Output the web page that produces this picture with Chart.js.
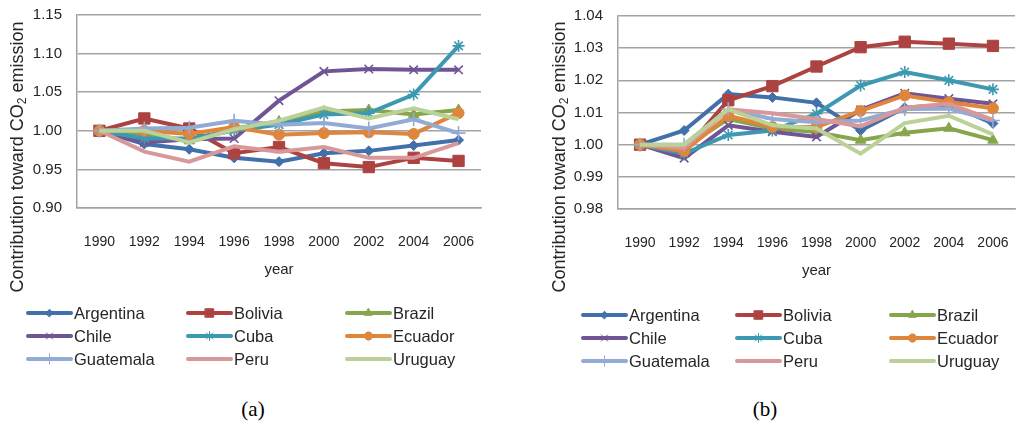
<!DOCTYPE html>
<html lang="en">
<head>
<meta charset="UTF-8">
<script src="https://cdn.jsdelivr.net/npm/chart.js@4.4.0/dist/chart.umd.min.js"></script>
<title>Contribution toward CO2 emission</title>
<style>
  html, body { margin: 0; padding: 0; background: #fff; overflow: hidden; }
  #wrap { position: relative; width: 1020px; height: 433px; overflow: hidden; }
  canvas { position: absolute; top: 0; }
  .ytitle { position: absolute; width: 320px; height: 20px; line-height: 20px; text-align: center;
            font: 18px "Liberation Sans", Arial, sans-serif; color: #262626; white-space: nowrap;
            transform: rotate(-90deg); }
  .ytitle sub { font-size: 12px; vertical-align: -3px; line-height: 0; }
  .caption { position: absolute; top: 397px; width: 60px; text-align: center;
             font: 21px "Liberation Serif", "Times New Roman", serif; color: #000; }
</style>
</head>
<body>
<div id="wrap">
  <canvas id="chartA" width="510" height="390" style="left:0"></canvas>
  <canvas id="chartB" width="514" height="390" style="left:510px"></canvas>
  <div class="ytitle" style="left:-143px; top:147px">Contribution toward CO<sub>2</sub> emission</div>
  <div class="ytitle" style="left:399px; top:147px">Contribution toward CO<sub>2</sub> emission</div>
  <div class="caption" style="left:223px">(a)</div>
  <div class="caption" style="left:735px">(b)</div>
</div>
<script>
const years = ['1990', '1992', '1994', '1996', '1998', '2000', '2002', '2004', '2006'];
const countries = ['Argentina', 'Bolivia', 'Brazil', 'Chile', 'Cuba', 'Ecuador', 'Guatemala', 'Peru', 'Uruguay'];
const colors = ['#4170aa', '#ad4341', '#87a54a', '#6f5595', '#3d99b2', '#df853c', '#92abd4', '#d8989a', '#bad197'];
const markers = ['rectRot', 'rect', 'triangle', 'crossRot', 'star', 'circle', 'cross', false, false];
const markerSize = [5, 8, 6, 6, 6, 5.5, 7, 0, 0];

// panel (a)
const aArgentina = [1.000, 0.983, 0.976, 0.965, 0.960, 0.971, 0.974, 0.981, 0.988];
const aBolivia   = [1.000, 1.016, 1.003, 0.971, 0.979, 0.958, 0.953, 0.965, 0.961];
const aBrazil    = [1.000, 0.995, 0.987, 1.003, 1.012, 1.025, 1.027, 1.021, 1.027];
const aChile     = [1.000, 0.985, 0.989, 0.990, 1.039, 1.077, 1.080, 1.079, 1.079];
const aCuba      = [1.000, 0.990, 0.990, 1.000, 1.008, 1.021, 1.023, 1.047, 1.110];
const aEcuador   = [1.000, 1.000, 0.996, 1.005, 0.995, 0.997, 0.998, 0.996, 1.023];
const aGuatemala = [1.000, 1.003, 1.004, 1.013, 1.008, 1.010, 1.003, 1.015, 0.997];
const aPeru      = [1.000, 0.973, 0.960, 0.980, 0.973, 0.979, 0.965, 0.965, 0.984];
const aUruguay   = [1.000, 1.000, 0.985, 1.002, 1.013, 1.030, 1.016, 1.029, 1.015];

// panel (b)
const bArgentina = [1.000, 1.0044, 1.0157, 1.0147, 1.0130, 1.0044, 1.0115, 1.0125, 1.0066];
const bBolivia   = [1.000, 0.9980, 1.0138, 1.0182, 1.0243, 1.0303, 1.0320, 1.0314, 1.0307];
const bBrazil    = [1.000, 0.9990, 1.0080, 1.0050, 1.0039, 1.0014, 1.0037, 1.0051, 1.0014];
const bChile     = [1.000, 0.9958, 1.0060, 1.0040, 1.0024, 1.0108, 1.0160, 1.0143, 1.0127];
const bCuba      = [1.000, 0.9972, 1.0030, 1.0044, 1.0096, 1.0184, 1.0226, 1.0200, 1.0172];
const bEcuador   = [1.000, 0.9980, 1.0090, 1.0055, 1.0055, 1.0105, 1.0153, 1.0132, 1.0113];
const bGuatemala = [1.000, 1.0000, 1.0110, 1.0080, 1.0070, 1.0075, 1.0111, 1.0112, 1.0075];
const bPeru      = [1.000, 0.9990, 1.0110, 1.0098, 1.0080, 1.0057, 1.0115, 1.0127, 1.0077];
const bUruguay   = [1.000, 1.0000, 1.0110, 1.0060, 1.0050, 0.9972, 1.0067, 1.0090, 1.0032];

const aTicks = { min: 0.90, max: 1.15, step: 0.05 };
const bTicks = { min: 0.98, max: 1.04, step: 0.01 };

Chart.defaults.font.family = '"Liberation Sans", Arial, sans-serif';
Chart.defaults.color = '#262626';

const gridColor = '#a3a3a3';

// 3 x 3 legend drawn under the plot, like the spreadsheet one
const gridLegend = {
  id: 'gridLegend',
  afterDraw(chart, args, opts) {
    const ctx = chart.ctx;
    ctx.save();
    chart.data.datasets.forEach((ds, i) => {
      const x = opts.cols[i % 3];
      const y = opts.rows[Math.floor(i / 3)];
      ctx.strokeStyle = ds.borderColor;
      ctx.lineWidth = 4;
      ctx.lineCap = 'round';
      ctx.beginPath();
      ctx.moveTo(x, y);
      ctx.lineTo(x + 43, y);
      ctx.stroke();
      if (ds.pointStyle && ds.pointRadius > 0) {
        ctx.fillStyle = ds.pointBackgroundColor;
        ctx.strokeStyle = ds.pointBorderColor;
        ctx.lineWidth = 1;
        Chart.helpers.drawPoint(ctx, {
          pointStyle: ds.pointStyle, radius: ds.pointRadius * 0.75, borderWidth: 1, rotation: 0
        }, x + 21.5, y);
      }
      ctx.fillStyle = '#262626';
      ctx.font = '16.5px "Liberation Sans", Arial, sans-serif';
      ctx.textBaseline = 'middle';
      ctx.textAlign = 'left';
      ctx.fillText(ds.label, x + 46, y + 1);
    });
    ctx.restore();
  }
};

function makeChart(id, series, t, yWidth, pad, legendCols, legendRows) {
  const datasets = series.map((vals, i) => ({
    label: countries[i],
    data: vals,
    borderColor: colors[i],
    backgroundColor: colors[i],
    pointBackgroundColor: colors[i],
    pointBorderColor: colors[i],
    pointStyle: markers[i],
    pointRadius: markerSize[i],
    pointBorderWidth: (markers[i] === 'cross' || markers[i] === 'crossRot' || markers[i] === 'star') ? 1.6 : 1,
    borderWidth: 4,
    tension: 0,
    order: 9 - i
  }));

  return new Chart(document.getElementById(id), {
    type: 'line',
    data: { labels: years, datasets: datasets },
    options: {
      responsive: false,
      animation: false,
      layout: { padding: pad },
      plugins: {
        legend: { display: false },
        tooltip: { enabled: false },
        gridLegend: { cols: legendCols, rows: legendRows }
      },
      scales: {
        x: {
          offset: true,
          grid: { color: 'transparent', drawTicks: true, tickLength: 24, tickColor: 'transparent' },
          border: { display: true, color: gridColor, width: 1.5 },
          ticks: { padding: 2, font: { size: 14 }, maxRotation: 0 },
          title: { display: true, text: 'year', font: { size: 15 }, padding: { top: 0, bottom: 9 } },
          afterFit: s => { s.height = 80; }
        },
        y: {
          min: t.min,
          max: t.max,
          grid: { color: gridColor, lineWidth: 1.5, drawTicks: true, tickLength: 13, tickColor: 'transparent' },
          border: { display: true, color: gridColor, width: 1.5 },
          ticks: { stepSize: t.step, padding: 2, font: { size: 15 }, callback: v => v.toFixed(2) },
          afterFit: s => { s.width = yWidth; }
        }
      }
    },
    plugins: [gridLegend]
  });
}

makeChart('chartA',
  [aArgentina, aBolivia, aBrazil, aChile, aCuba, aEcuador, aGuatemala, aPeru, aUruguay],
  aTicks, 77, { top: 15, right: 29, bottom: 102, left: 0 },
  [28, 188, 347], [313, 336, 359]);

makeChart('chartB',
  [bArgentina, bBolivia, bBrazil, bChile, bCuba, bEcuador, bGuatemala, bPeru, bUruguay],
  bTicks, 108, { top: 16, right: 0, bottom: 101, left: 0 },
  [73, 227, 381], [315, 338, 361]);
</script>
</body>
</html>
